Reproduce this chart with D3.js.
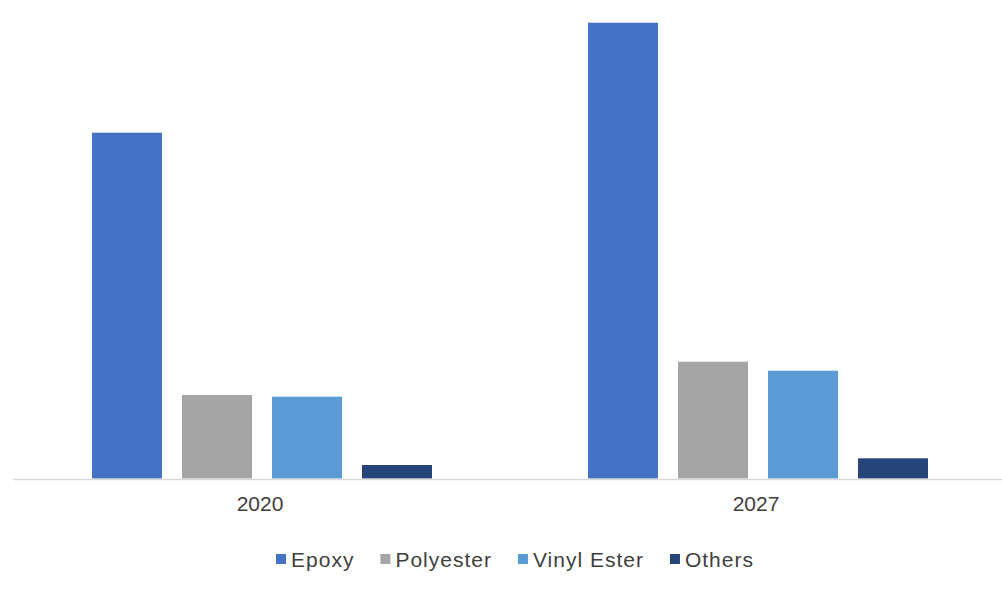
<!DOCTYPE html>
<html>
<head>
<meta charset="utf-8">
<script src="https://cdn.jsdelivr.net/npm/d3@7"></script>
<style>
  html, body { margin: 0; padding: 0; background: #ffffff; }
  svg { display: block; }
  text { font-family: "Liberation Sans", Arial, sans-serif; fill: #404040; }
</style>
</head>
<body>
<svg id="chart" width="1002" height="609"></svg>
<script>
// Market size by resin type
const years = ["2020", "2027"];
const resins = ["Epoxy", "Polyester", "Vinyl Ester", "Others"];
const epoxy = [3458, 4558];
const polyester = [835, 1168];
const vinylEster = [818, 1078];
const others = [135, 202];
const colors = ["#4472C4", "#A5A5A5", "#5B9BD5", "#264478"];

const seriesValues = [epoxy, polyester, vinylEster, others];
const rows = years.map((yr, i) => ({
  year: yr,
  values: resins.map((r, k) => ({ resin: r, value: seriesValues[k][i] }))
}));

const svg = d3.select("#chart");
const W = 1002, H = 609;
const margin = { top: 18.5, right: 0, bottom: 130.5, left: 14 };
const baseY = H - margin.bottom;

const x0 = d3.scaleBand()
  .domain(years)
  .range([margin.left, margin.left + 992])
  .paddingInner(0)
  .paddingOuter(0);

const x1 = d3.scaleBand()
  .domain(resins)
  .range([0, x0.bandwidth()])
  .paddingInner(0.2222)
  .paddingOuter(0.8667);

const y = d3.scaleLinear()
  .domain([0, 4600])
  .range([baseY, margin.top]);

const color = d3.scaleOrdinal().domain(resins).range(colors);

// bars
const groups = svg.append("g")
  .selectAll("g")
  .data(rows)
  .join("g")
  .attr("transform", d => `translate(${x0(d.year)},0)`);

groups.selectAll("rect")
  .data(d => d.values)
  .join("rect")
  .attr("x", d => x1(d.resin))
  .attr("width", x1.bandwidth())
  .attr("y", d => y(d.value))
  .attr("height", d => y(0) - y(d.value))
  .attr("fill", d => color(d.resin));

// category axis
const axis = svg.append("g")
  .attr("transform", `translate(0,${baseY + 1})`)
  .call(d3.axisBottom(x0).tickSize(0).tickPadding(17));
axis.select(".domain")
  .attr("d", `M13,0H1002`)
  .attr("stroke", "#d9d9d9")
  .attr("stroke-width", 1.5);
axis.selectAll(".tick text")
  .attr("font-size", 21)
  .attr("x", -2)
  .attr("font-family", '"Liberation Sans", Arial, sans-serif')
  .attr("fill", "#404040");

// legend
const legend = svg.append("g").attr("transform", "translate(0,559)");
const items = legend.selectAll("g")
  .data(resins)
  .join("g");
items.append("rect")
  .attr("width", 10)
  .attr("height", 10)
  .attr("y", -5)
  .attr("fill", d => color(d));
items.append("text")
  .attr("x", 15)
  .attr("y", 7.5)
  .attr("font-size", 21)
  .attr("letter-spacing", 1)
  .text(d => d);

let cx = 0;
const offsets = [];
items.each(function () {
  const tw = d3.select(this).select("text").node().getComputedTextLength();
  offsets.push(cx);
  cx += 15 + tw + 26;
});
const total = cx - 26;
const startX = 515 - total / 2;
items.attr("transform", (d, i) => `translate(${startX + offsets[i]},0)`);
</script>
</body>
</html>
